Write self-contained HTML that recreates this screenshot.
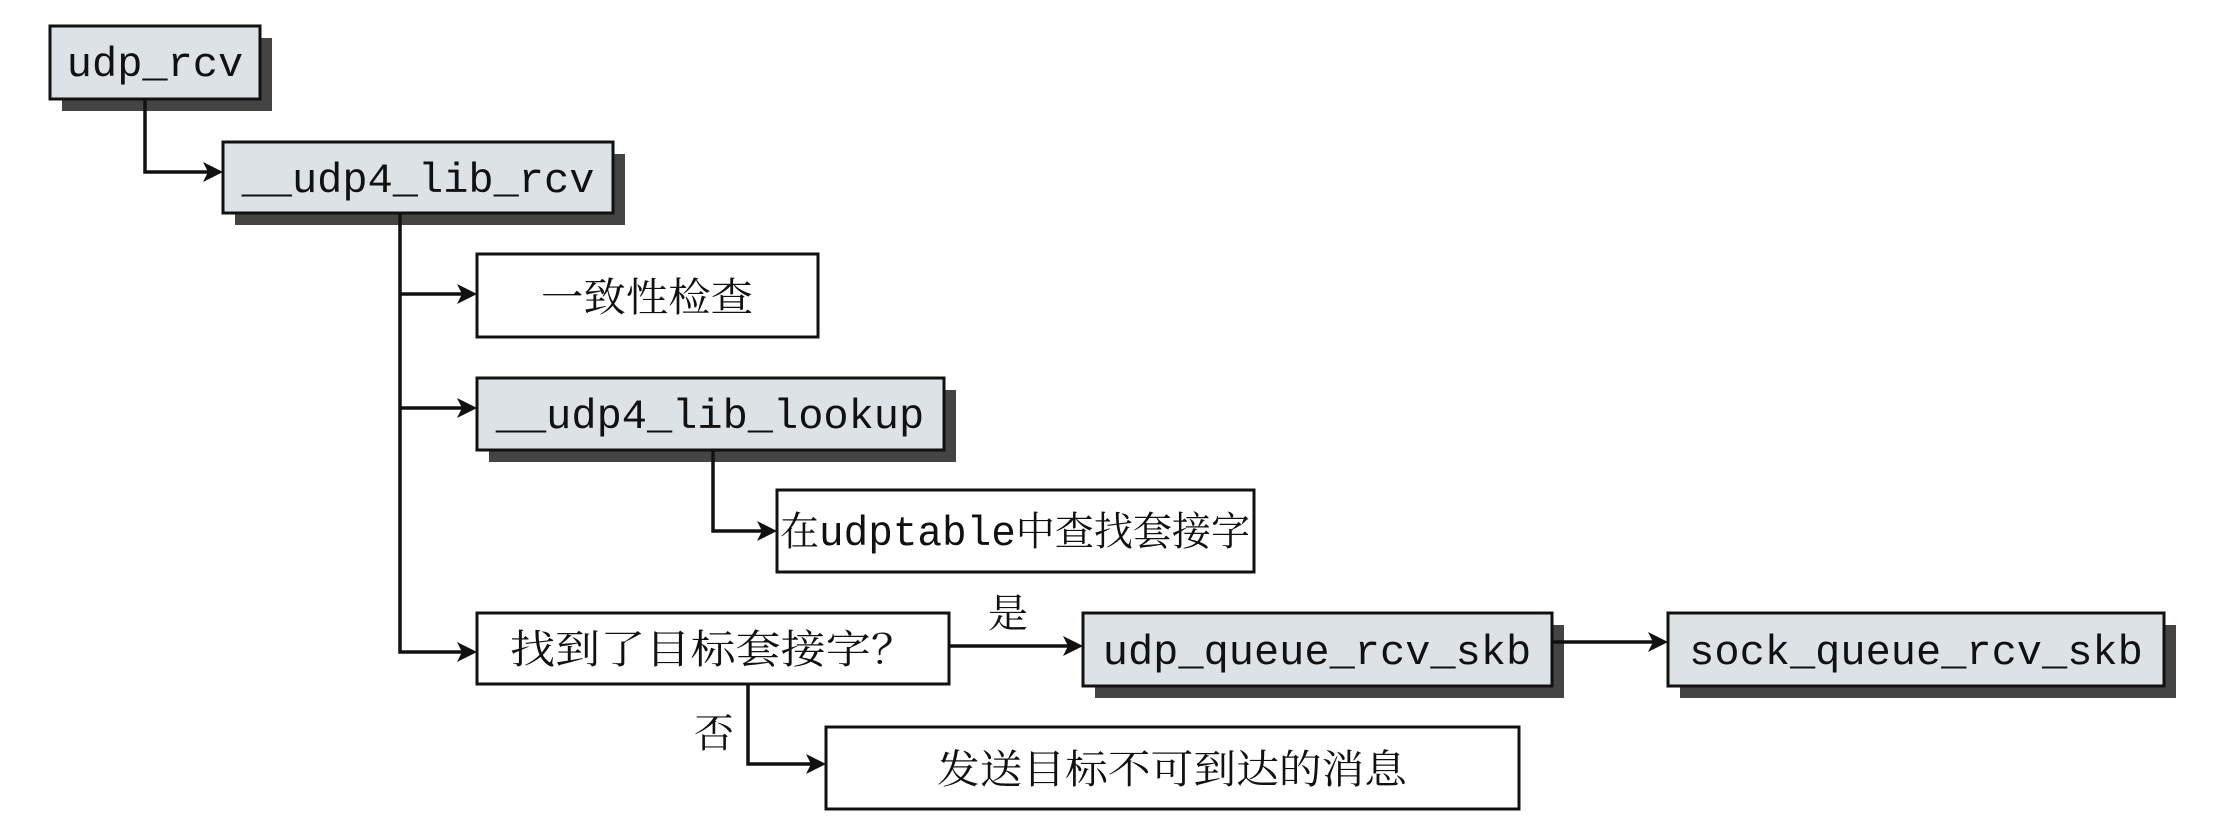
<!DOCTYPE html>
<html><head><meta charset="utf-8"><style>
html,body{margin:0;padding:0;background:#fff;}
svg{display:block;}
.m{font-family:"Liberation Mono","Noto Sans CJK SC",monospace;font-size:42px;fill:#111;}
.c{font-family:"Liberation Serif","Noto Serif CJK SC","Noto Sans CJK SC",serif;font-size:40px;fill:#111;}
</style></head><body>
<svg width="2226" height="825" viewBox="0 0 2226 825" xmlns="http://www.w3.org/2000/svg">
<defs>
<marker id="a" markerWidth="10" markerHeight="10" refX="9" refY="5" orient="auto" markerUnits="userSpaceOnUse" viewBox="0 0 10 10">
</marker>
</defs>
<g fill="#444">
<rect x="62" y="38" width="210" height="73"/>
<rect x="235" y="154" width="390" height="71"/>
<rect x="489" y="390" width="467" height="72"/>
<rect x="1095" y="625" width="469" height="73"/>
<rect x="1680" y="625" width="496" height="73"/>
</g>
<g stroke="#111" stroke-width="3">
<rect x="50" y="26" width="210" height="73" fill="#dde2e6"/>
<rect x="223" y="142" width="390" height="71" fill="#dde2e6"/>
<rect x="477" y="254" width="341" height="83" fill="#fff"/>
<rect x="477" y="378" width="467" height="72" fill="#dde2e6"/>
<rect x="777" y="490" width="477" height="82" fill="#fff"/>
<rect x="477" y="613" width="472" height="71" fill="#fff"/>
<rect x="1083" y="613" width="469" height="73" fill="#dde2e6"/>
<rect x="1668" y="613" width="496" height="73" fill="#dde2e6"/>
<rect x="826" y="727" width="693" height="82" fill="#fff"/>
</g>
<g stroke="#111" stroke-width="3.5" fill="none">
<polyline points="145,99 145,172 208,172"/>
<polyline points="400,213 400,652 462,652"/>
<line x1="400" y1="294" x2="462" y2="294"/>
<line x1="400" y1="408" x2="462" y2="408"/>
<polyline points="713,450 713,531 762,531"/>
<line x1="949" y1="646" x2="1068" y2="646"/>
<line x1="1552" y1="642" x2="1653" y2="642"/>
<polyline points="748,684 748,764 811,764"/>
</g>
<g fill="#111">
<polygon points="223,172 203,162 208,172 203,182"/>
<polygon points="477,294 457,284 462,294 457,304"/>
<polygon points="477,408 457,398 462,408 457,418"/>
<polygon points="477,652 457,642 462,652 457,662"/>
<polygon points="777,531 757,521 762,531 757,541"/>
<polygon points="1083,646 1063,636 1068,646 1063,656"/>
<polygon points="1668,642 1648,632 1653,642 1648,652"/>
<polygon points="826,764 806,754 811,764 806,774"/>
</g>
<text class="m" x="155" y="76" text-anchor="middle">udp_rcv</text>
<text class="m" x="418" y="192" text-anchor="middle">__udp4_lib_rcv</text>
<text class="c" x="647" y="311" text-anchor="middle" textLength="212" lengthAdjust="spacingAndGlyphs">一致性检查</text>
<text class="m" x="710" y="428" text-anchor="middle">__udp4_lib_lookup</text>
<text x="780" y="545" textLength="470" lengthAdjust="spacingAndGlyphs"><tspan class="c">在</tspan><tspan class="m">udptable</tspan><tspan class="c">中查找套接字</tspan></text>
<text class="c" x="713" y="663" text-anchor="middle" textLength="406" lengthAdjust="spacingAndGlyphs">找到了目标套接字？</text>
<text class="c" x="1008" y="627" text-anchor="middle">是</text>
<text class="m" x="1317" y="664" text-anchor="middle">udp_queue_rcv_skb</text>
<text class="m" x="1916" y="664" text-anchor="middle">sock_queue_rcv_skb</text>
<text class="c" x="714" y="747" text-anchor="middle">否</text>
<text class="c" x="1172" y="783" text-anchor="middle" textLength="470" lengthAdjust="spacingAndGlyphs">发送目标不可到达的消息</text>
</svg>
</body></html>
